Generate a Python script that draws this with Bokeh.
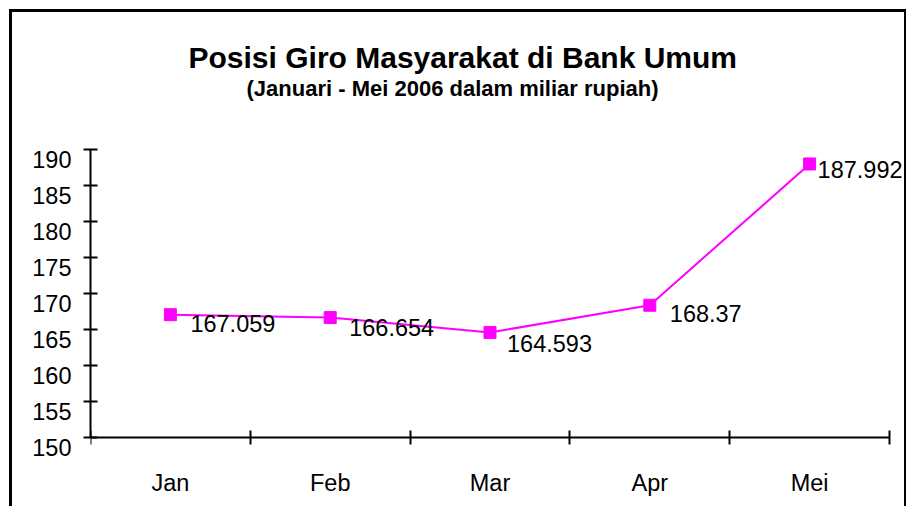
from bokeh.plotting import figure
from bokeh.models import (Range1d, LinearAxis, FixedTicker, Title, ColumnDataSource)
from bokeh.embed import file_html
from bokeh.resources import INLINE
from bokeh.core.properties import value

# ---- data ----
months = ["Jan", "Feb", "Mar", "Apr", "Mei"]
giro = [167.059, 166.654, 164.593, 168.37, 187.992]
giro_labels = ["167.059", "166.654", "164.593", "168.37", "187.992"]
y_ticks = [150, 155, 160, 165, 170, 175, 180, 185, 190]
title_text = "Posisi Giro Masyarakat di Bank Umum"
subtitle_text = "(Januari - Mei 2006 dalam miliar rupiah)"

# category centre / boundary positions on a numeric axis
centres = [i + 0.5 for i in range(len(months))]
bounds_x = list(range(len(months) + 1))
y_min, y_max = y_ticks[0], y_ticks[-1]

# ---- style ----
FONT = "Liberation Sans"
MAG = "#FF00FF"
lab_dx = [20, 19, 17, 20, 8]      # label offsets in px (style)
lab_dy = [9, 10, 11, 8, 6]
label_shift = 9.5 / 7.2           # y tick labels sit a little below their ticks
x_pad = 20 / 160                  # frame continues past the last category
y_pad = 2.5                       # frame continues below the x axis line

p = figure(width=897, height=497, x_range=Range1d(0, len(months) + x_pad),
           y_range=Range1d(y_min - y_pad, y_max),
           output_backend="svg", toolbar_location=None,
           x_axis_location=None, y_axis_location=None,
           min_border_left=78, min_border_right=0,
           min_border_top=137, min_border_bottom=54)
p.grid.visible = False
p.outline_line_color = None
p.background_fill_color = "white"
p.border_fill_color = "white"
p.styles = {"margin-left": "9px", "margin-top": "9px",
            "border-top": "3px solid black", "border-left": "3px solid black",
            "border-right": "2px solid black"}

p.extra_y_ranges = {"lab": Range1d(y_min - y_pad + label_shift, y_max + label_shift)}

# y axis: line + ticks
yA = LinearAxis(ticker=FixedTicker(ticks=y_ticks), bounds=(y_min, y_max),
                axis_line_width=2, major_tick_line_width=2,
                major_tick_in=7, major_tick_out=7, minor_tick_line_color=None,
                major_label_overrides={t: "" for t in y_ticks},
                major_label_text_font_size="0px", major_label_standoff=0)
p.add_layout(yA, "left")
# y axis: labels
yB = LinearAxis(y_range_name="lab", ticker=FixedTicker(ticks=y_ticks),
                axis_line_color=None, major_tick_line_color=None,
                minor_tick_line_color=None, major_tick_in=0, major_tick_out=0,
                major_label_standoff=12, major_label_text_font=FONT,
                major_label_text_font_size="23.5px", major_label_text_color="black")
p.add_layout(yB, "left")

# x axis: line + boundary ticks, at y = 150
xA = LinearAxis(ticker=FixedTicker(ticks=bounds_x), bounds=(0, len(months)),
                fixed_location=y_min,
                axis_line_width=2, major_tick_line_width=2, major_tick_in=7,
                major_tick_out=7, minor_tick_line_color=None,
                major_label_overrides={t: "" for t in bounds_x},
                major_label_text_font_size="0px", major_label_standoff=0)
p.add_layout(xA, "below")
# x axis: category labels
xB = LinearAxis(ticker=FixedTicker(ticks=centres),
                major_label_overrides={c: m for c, m in zip(centres, months)},
                axis_line_color=None, major_tick_line_color=None,
                minor_tick_line_color=None,
                major_tick_in=0, major_tick_out=0, major_label_standoff=14,
                major_label_text_font=FONT, major_label_text_font_size="23.5px",
                major_label_text_color="black")
p.add_layout(xB, "below")

src = ColumnDataSource(dict(x=centres, y=giro, t=giro_labels, dx=lab_dx, dy=lab_dy))
p.line("x", "y", source=src, line_color=MAG, line_width=2)
p.scatter("x", "y", source=src, marker="square", size=12, fill_color=MAG, line_color=MAG)
p.text("x", "y", text="t", source=src, x_offset="dx", y_offset="dy",
       text_font=value(FONT), text_font_size="23.5px", text_align="left",
       text_baseline="middle", text_color="black")

# spacer, subtitle (closest to the frame), then main title above it
p.add_layout(Title(text=" ", standoff=46, text_font_size="1px"), "above")
p.add_layout(Title(text=subtitle_text, align="left", offset=156, standoff=0,
                   text_font=FONT, text_font_style="bold", text_font_size="22px",
                   text_color="black"), "above")
p.add_layout(Title(text=title_text, align="left", offset=98, standoff=-1,
                   text_font=FONT, text_font_style="bold", text_font_size="30px",
                   text_color="black"), "above")

open("out.html", "w").write(file_html(p, INLINE))
